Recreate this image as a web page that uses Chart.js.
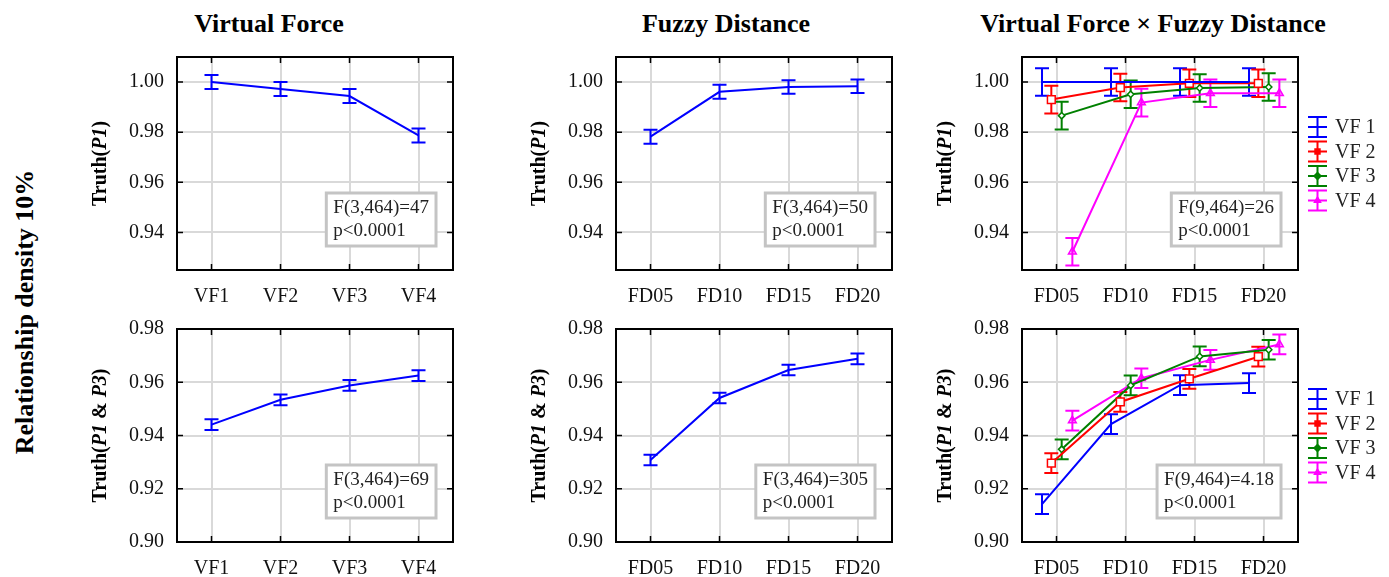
<!DOCTYPE html>
<html>
<head>
<meta charset="utf-8">
<script src="https://cdn.jsdelivr.net/npm/chart.js@4.4.1/dist/chart.umd.min.js"></script>
<style>
  body { margin: 0; background: #fff; overflow: hidden; }
  #wrap { position: relative; width: 1389px; height: 577px; font-family: "Liberation Serif", serif; color: #000; }
  canvas { position: absolute; }
  .ttl { position: absolute; top: 9px; font-weight: bold; font-size: 26px; line-height: 30px; white-space: nowrap; transform: translateX(-50%); }
  #side { position: absolute; left: 25px; top: 312px; font-weight: bold; font-size: 26px; white-space: nowrap; transform: translate(-50%, -50%) rotate(-90deg); }
</style>
</head>
<body>
<div id="wrap">
  <div class="ttl" style="left:269px">Virtual Force</div>
  <div class="ttl" style="left:726px">Fuzzy Distance</div>
  <div class="ttl" style="left:1153px">Virtual Force × Fuzzy Distance</div>
  <div id="side">Relationship density 10%</div>
  <canvas id="vfTop"></canvas>
  <canvas id="vfBot"></canvas>
  <canvas id="fdTop"></canvas>
  <canvas id="fdBot"></canvas>
  <canvas id="ixTop"></canvas>
  <canvas id="ixBot"></canvas>
</div>
<script>
// categories and tick labels
const vfLabels = ["VF1", "VF2", "VF3", "VF4"];
const fdLabels = ["FD05", "FD10", "FD15", "FD20"];
const vfNames = ["VF 1", "VF 2", "VF 3", "VF 4"];
const p1Ticks = [0.94, 0.96, 0.98, 1.00];
const p13Ticks = [0.90, 0.92, 0.94, 0.96, 0.98];

// main effect: virtual force
const vfP1 = [1.000, 0.9972, 0.9944, 0.9787];
const vfP1Err = [0.0028, 0.0028, 0.0028, 0.0028];
const vfP13 = [0.9441, 0.9534, 0.9588, 0.9625];
const vfP13Err = [0.002, 0.002, 0.002, 0.002];

// main effect: fuzzy distance
const fdP1 = [0.9782, 0.9961, 0.998, 0.9983];
const fdP1Err = [0.0028, 0.0028, 0.0027, 0.0027];
const fdP13 = [0.9308, 0.9541, 0.9646, 0.9688];
const fdP13Err = [0.002, 0.002, 0.002, 0.002];

// interaction, Truth(P1), one list per VF level
const ixP1Vf1 = [1.000, 1.000, 1.000, 1.000];
const ixP1Vf2 = [0.9930, 0.9978, 0.9995, 0.9995];
const ixP1Vf3 = [0.9866, 0.9951, 0.9976, 0.9980];
const ixP1Vf4 = [0.9323, 0.9918, 0.9955, 0.9955];
const ixP1Err = [0.0055, 0.0055, 0.0055, 0.0055];

// interaction, Truth(P1 & P3)
const ixP13Vf1 = [0.9142, 0.9443, 0.9589, 0.9597];
const ixP13Vf2 = [0.9296, 0.9526, 0.9613, 0.9696];
const ixP13Vf3 = [0.9348, 0.9588, 0.9697, 0.9722];
const ixP13Vf4 = [0.9456, 0.9615, 0.9684, 0.9742];
const ixP13Err = [0.0037, 0.0037, 0.0037, 0.0037];

// F tests shown in the boxes
const statVfP1 = ["F(3,464)=47", "p<0.0001"];
const statVfP13 = ["F(3,464)=69", "p<0.0001"];
const statFdP1 = ["F(3,464)=50", "p<0.0001"];
const statFdP13 = ["F(3,464)=305", "p<0.0001"];
const statIxP1 = ["F(9,464)=26", "p<0.0001"];
const statIxP13 = ["F(9,464)=4.18", "p<0.0001"];

const SERIF = '"Liberation Serif", "Times New Roman", serif';
const seriesColors = ["#0000ff", "#ff0000", "#008000", "#ff00ff"];
const seriesPoints = [
  { style: "circle", radius: 0, fill: "#0000ff" },
  { style: "rect", radius: 5.5, fill: "#ffffff" },
  { style: "rectRot", radius: 3.2, fill: "#ffffff" },
  { style: "triangle", radius: 4.5, fill: "rgba(255,0,255,0.35)" }
];
const dodge = [-0.21, -0.075, 0.075, 0.23];

// frame, inward ticks, stats box, error bars, y title, legend
const panelPlugin = {
  id: "panel",
  beforeDatasetsDraw(chart, args, opts) {
    const ctx = chart.ctx;
    const area = chart.chartArea;
    const ys = chart.scales.y;

    // stats box
    if (opts.stats) {
      ctx.save();
      ctx.font = "19px " + SERIF;
      const w = Math.max(...opts.stats.map(t => ctx.measureText(t).width)) + 14;
      const h = 53;
      const bx = area.right - 17 - w;
      const by = area.bottom - 24 - h;
      ctx.fillStyle = "#fff";
      ctx.fillRect(bx, by, w, h);
      ctx.strokeStyle = "#c4c4c4";
      ctx.lineWidth = 3;
      ctx.strokeRect(bx, by, w, h);
      ctx.fillStyle = "#222";
      ctx.textBaseline = "middle";
      ctx.textAlign = "left";
      opts.stats.forEach((t, i) => ctx.fillText(t, bx + 7, by + 15 + i * 23));
      ctx.restore();
    }

    // error bars
    chart.data.datasets.forEach((ds, di) => {
      const meta = chart.getDatasetMeta(di);
      if (!ds.errors) return;
      ctx.save();
      ctx.strokeStyle = ds.borderColor;
      ctx.lineWidth = 2;
      meta.data.forEach((pt, i) => {
        const v = ds.data[i].y;
        const e = ds.errors[i];
        const y1 = ys.getPixelForValue(v + e);
        const y2 = ys.getPixelForValue(v - e);
        ctx.beginPath();
        ctx.moveTo(pt.x, y1);
        ctx.lineTo(pt.x, y2);
        ctx.moveTo(pt.x - 7, y1);
        ctx.lineTo(pt.x + 7, y1);
        ctx.moveTo(pt.x - 7, y2);
        ctx.lineTo(pt.x + 7, y2);
        ctx.stroke();
      });
      ctx.restore();
    });
  },
  afterDraw(chart, args, opts) {
    const ctx = chart.ctx;
    const area = chart.chartArea;
    const xs = chart.scales.x;
    const ys = chart.scales.y;

    ctx.save();
    ctx.strokeStyle = "#000";
    ctx.lineWidth = 1.5;
    ctx.beginPath();
    xs.ticks.forEach(t => {
      const px = xs.getPixelForValue(t.value);
      ctx.moveTo(px, area.top);
      ctx.lineTo(px, area.top + 6);
      ctx.moveTo(px, area.bottom);
      ctx.lineTo(px, area.bottom - 6);
    });
    ys.ticks.forEach(t => {
      const py = ys.getPixelForValue(t.value);
      ctx.moveTo(area.left, py);
      ctx.lineTo(area.left + 6, py);
      ctx.moveTo(area.right, py);
      ctx.lineTo(area.right - 6, py);
    });
    ctx.stroke();
    ctx.lineWidth = 2;
    ctx.strokeRect(area.left, area.top, area.right - area.left, area.bottom - area.top);
    ctx.restore();

    // y title with italic parts marked by *
    if (opts.title) {
      const parts = opts.title.split("*").map((t, i) => ({ t, it: i % 2 === 1 }));
      ctx.save();
      ctx.translate(area.left - 76, (area.top + area.bottom) / 2);
      ctx.rotate(-Math.PI / 2);
      ctx.fillStyle = "#000";
      ctx.textBaseline = "middle";
      ctx.textAlign = "left";
      let total = 0;
      parts.forEach(p => {
        ctx.font = (p.it ? "italic " : "") + "bold 20px " + SERIF;
        p.w = ctx.measureText(p.t).width;
        total += p.w;
      });
      let x = -total / 2;
      parts.forEach(p => {
        ctx.font = (p.it ? "italic " : "") + "bold 20px " + SERIF;
        ctx.fillText(p.t, x, 0);
        x += p.w;
      });
      ctx.restore();
    }

    // legend with error bar glyphs
    if (opts.legend) {
      ctx.save();
      chart.data.datasets.forEach((ds, i) => {
        const x0 = area.right + 10;
        const cy = area.top + 70 + i * 24.5;
        ctx.strokeStyle = ds.borderColor;
        ctx.lineWidth = 2;
        ctx.beginPath();
        ctx.moveTo(x0 + 9.5, cy - 10);
        ctx.lineTo(x0 + 9.5, cy + 10);
        [-10, 0, 10].forEach(d => {
          ctx.moveTo(x0, cy + d);
          ctx.lineTo(x0 + 19, cy + d);
        });
        ctx.stroke();
        if (ds.pointRadius > 0 && Chart.helpers && Chart.helpers.drawPoint) {
          ctx.fillStyle = ds.borderColor;
          ctx.lineWidth = 1.5;
          Chart.helpers.drawPoint(ctx, {
            pointStyle: ds.pointStyle,
            radius: 3.5,
            rotation: 0,
            borderWidth: 1.5
          }, x0 + 9.5, cy);
        }
        ctx.fillStyle = "#222";
        ctx.font = "20px " + SERIF;
        ctx.textBaseline = "middle";
        ctx.textAlign = "left";
        ctx.fillText(ds.label, x0 + 27, cy + 1);
      });
      ctx.restore();
    }
  }
};

// the layout adds about 11px above the plot on its own, so the canvas starts higher
const TOP_PAD = 14;
const TOP_EXTRA = 11;

function makePanel(id, left, top, rightPad, axisH, xLabels, yTicks, yMin, yMax, datasets, opts) {
  const canvas = document.getElementById(id);
  const above = TOP_PAD + TOP_EXTRA;
  canvas.width = 100 + 276 + rightPad;
  canvas.height = above + 213 + axisH;
  canvas.style.left = (left - 100) + "px";
  canvas.style.top = (top - above) + "px";

  return new Chart(canvas.getContext("2d"), {
    type: "line",
    data: { datasets },
    options: {
      responsive: false,
      animation: false,
      layout: { padding: { left: 0, top: TOP_PAD, right: rightPad, bottom: 0 } },
      plugins: {
        legend: { display: false },
        tooltip: { enabled: false },
        panel: opts
      },
      scales: {
        x: {
          type: "linear",
          min: -0.5,
          max: 3.5,
          afterBuildTicks: s => { s.ticks = xLabels.map((_, i) => ({ value: i })); },
          afterFit: s => { s.height = axisH; },
          grid: { color: "#d9d9d9", lineWidth: 2, drawTicks: false },
          border: { display: false },
          ticks: {
            autoSkip: false,
            padding: 15,
            color: "#111",
            font: { family: SERIF, size: 20 },
            callback: v => xLabels[v]
          }
        },
        y: {
          min: yMin,
          max: yMax,
          afterBuildTicks: s => { s.ticks = yTicks.map(v => ({ value: v })); },
          afterFit: s => { s.width = 100; },
          grid: { color: "#d9d9d9", lineWidth: 2, drawTicks: false },
          border: { display: false },
          ticks: {
            padding: 13,
            color: "#111",
            font: { family: SERIF, size: 20 },
            callback: v => v.toFixed(2)
          }
        }
      }
    },
    plugins: [panelPlugin]
  });
}

function singleSeries(values, errors) {
  return [{
    label: "mean",
    data: values.map((v, i) => ({ x: i, y: v })),
    errors: errors,
    borderColor: "#0000ff",
    borderWidth: 2,
    pointRadius: 0
  }];
}

function groupSeries(lists, errors) {
  return lists.map((values, s) => ({
    label: vfNames[s],
    data: values.map((v, i) => ({ x: i + dodge[s], y: v })),
    errors: errors,
    borderColor: seriesColors[s],
    backgroundColor: seriesPoints[s].fill,
    borderWidth: 2,
    pointStyle: seriesPoints[s].style,
    pointRadius: seriesPoints[s].radius,
    pointBorderWidth: 1.5
  }));
}

const TOP = 57, BOT = 329;

makePanel("vfTop", 177, TOP, 8, 48, vfLabels, p1Ticks, 0.925, 1.01,
  singleSeries(vfP1, vfP1Err), { title: "Truth(*P1*)", stats: statVfP1 });
makePanel("vfBot", 177, BOT, 8, 35, vfLabels, p13Ticks, 0.90, 0.98,
  singleSeries(vfP13, vfP13Err), { title: "Truth(*P1* & *P3*)", stats: statVfP13 });

makePanel("fdTop", 616, TOP, 8, 48, fdLabels, p1Ticks, 0.925, 1.01,
  singleSeries(fdP1, fdP1Err), { title: "Truth(*P1*)", stats: statFdP1 });
makePanel("fdBot", 616, BOT, 8, 35, fdLabels, p13Ticks, 0.90, 0.98,
  singleSeries(fdP13, fdP13Err), { title: "Truth(*P1* & *P3*)", stats: statFdP13 });

makePanel("ixTop", 1022, TOP, 91, 48, fdLabels, p1Ticks, 0.925, 1.01,
  groupSeries([ixP1Vf1, ixP1Vf2, ixP1Vf3, ixP1Vf4], ixP1Err),
  { title: "Truth(*P1*)", stats: statIxP1, legend: true });
makePanel("ixBot", 1022, BOT, 91, 35, fdLabels, p13Ticks, 0.90, 0.98,
  groupSeries([ixP13Vf1, ixP13Vf2, ixP13Vf3, ixP13Vf4], ixP13Err),
  { title: "Truth(*P1* & *P3*)", stats: statIxP13, legend: true });
</script>
</body>
</html>
